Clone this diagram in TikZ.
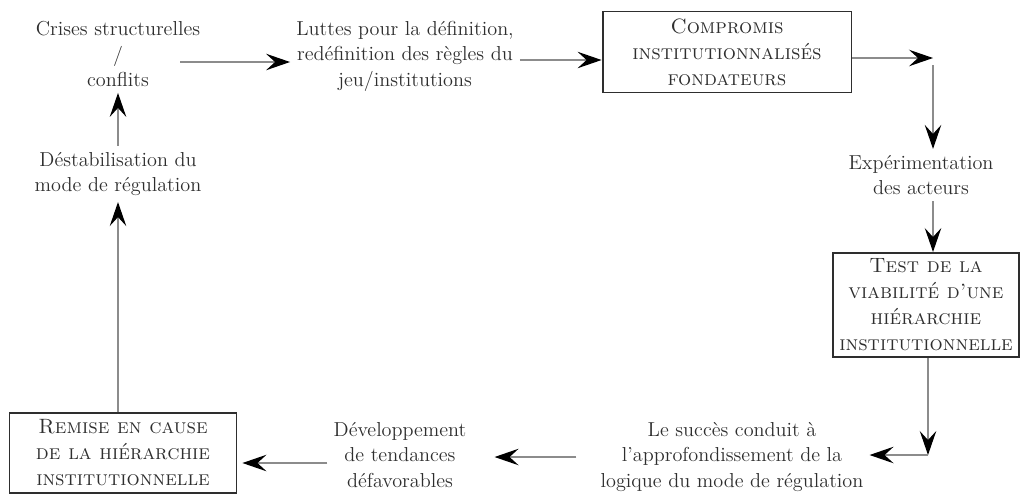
\documentclass[tikz,border=0pt]{standalone}
\usepackage{tikz}
\usetikzlibrary{positioning,arrows.meta,calc}
\definecolor{tline}{HTML}{8C8C8C}
\definecolor{tink}{HTML}{2E2E2E}

\begin{document}
\begin{tikzpicture}[x=0.02cm, y=-0.02cm,
  font=\fontsize{11.5}{14.5}\selectfont, text=tink,
  txt/.style={align=center},
  box/.style={draw=tink, line width=1.1pt, align=center, font=\fontsize{11.8}{14.8}\selectfont\scshape},
  arr/.style={-{Stealth[length=4.8mm, width=3.3mm, inset=1.8mm, color=black]}, draw=tline, line width=0.7pt}]
\useasboundingbox (0,0) rectangle (1020,495);
% top row
\node[txt] (crises) at (118,54) {Crises structurelles\\/\\conflits};
\node[txt] (luttes) at (405,56) {Luttes pour la définition,\\redéfinition des règles du\\jeu/institutions};
\node[box, minimum width=4.98cm, minimum height=1.62cm] (compromis) at (727,52) {Compromis\\institutionnalisés\\fondateurs};
% right column
\node[txt] (exper) at (921,175) {Expérimentation\\des acteurs};
\node[box, minimum width=3.66cm, minimum height=2.08cm] (test) at (926,305) {Test de la\\viabilité d'une\\hiérarchie\\institutionnelle};
% bottom row
\node[txt] (succes) at (732,457) {Le succès conduit à\\l'approfondissement de la\\logique du mode de régulation};
\node[txt] (devel) at (400,455) {Développement\\de tendances\\défavorables};
\node[box, minimum width=4.54cm, minimum height=1.6cm] (remise) at (123,453) {Remise en cause\\de la hiérarchie\\institutionnelle};
% left column
\node[txt] (destab) at (118,174) {Déstabilisation du\\mode de régulation};
% arrow start points
\coordinate (s1) at ($(crises.east)+(-26,8)$);
\coordinate (s2) at ($(luttes.east)+(0,4)$);
\coordinate (s3) at ($(devel.west)+(0,8)$);
\coordinate (c1) at (933,58);
\coordinate (c2) at (928,455);
% arrows, clockwise
\draw[arr] (s1) -- (s1 -| luttes.west);
\draw[arr] (s2) -- (s2 -| compromis.west);
\draw[arr] (compromis.east |- c1) -- (c1);
\draw[arr] ($(c1)+(0,7)$) -- (c1 |- exper.north);
\draw[arr] (exper.south -| c1) -- (c1 |- test.north);
\draw[arr] (test.south -| c2) -- (c2);
\draw[arr] (c2) -- (c2 -| succes.east);
\draw[arr, shorten <=3.6mm, shorten >=4.4mm] (succes.west) -- (succes.west -| devel.east);
\draw[arr, shorten >=1mm] (s3) -- (s3 -| remise.east);
\draw[arr] (remise.north -| destab.south) -- (destab.south);
\draw[arr] (destab.north) -- (crises.south);
\end{tikzpicture}
\end{document}
